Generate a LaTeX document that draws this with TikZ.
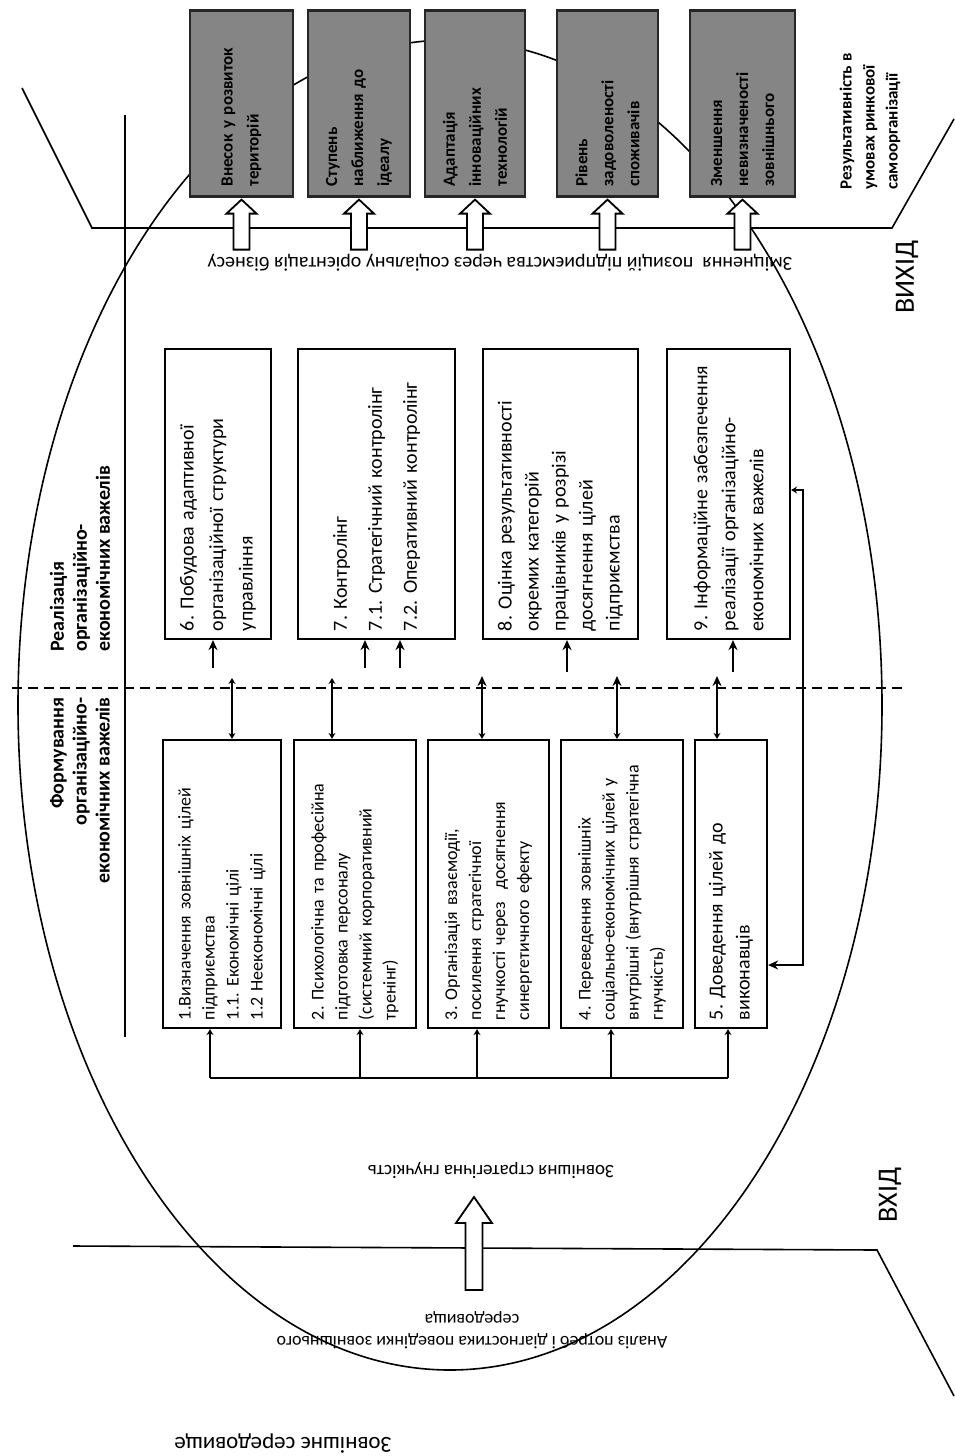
\documentclass[tikz,border=0pt]{standalone}
\usepackage{fontspec}
\setmainfont{Carlito}
\usetikzlibrary{arrows.meta,calc}
\frenchspacing

\begin{document}
\begin{tikzpicture}[x=0.5pt,y=-0.5pt,>={Stealth[length=5pt,width=4.5pt]},
    frame/.style={line width=0.8pt},
    link/.style={line width=1.1pt},
    tinytip/.style={-{Stealth[length=3pt,width=3.5pt]}},
    lever/.style={draw,line width=1.1pt,rotate=90,align=left,inner xsep=4pt,inner ysep=2pt,font=\fontsize{9}{12}\selectfont},
    lever2/.style={lever,font=\fontsize{10}{14}\selectfont},
    outcome/.style={draw=black!85,line width=1.1pt,fill=black!48,rotate=90,align=left,inner xsep=5pt,inner ysep=2pt,text width=83pt,font=\bfseries\fontsize{8.5}{13}\selectfont},
    colhead/.style={rotate=90,inner sep=0pt,font=\bfseries\fontsize{10}{11.5}\selectfont},
    upside/.style={rotate=180,inner sep=0pt,font=\fontsize{9.5}{12}\selectfont},
    hollow/.style={draw,line width=0.9pt,fill=white}]
    \useasboundingbox (0,0) rectangle (954,1456);

    \draw[frame] (450,705) ellipse [x radius=216pt,y radius=332.5pt];
    \draw[frame] (22,88)--(92,228)--(892,228)--(954,119);
    \draw[frame] (73,1246)--(877,1250)--(954,1396);
    \draw[frame] (125,115)--(125,1037);
    \draw[line width=0.9pt,dash pattern=on 5pt off 3pt] (12,688)--(905,688);

    \node[outcome,minimum height=51.5pt] (oA) at (241.5,103.5) {Внесок у розвиток\\територій};
    \node[outcome,minimum height=51pt] (oB) at (359,103.5) {Ступень\\наближення\ до\\ідеалу};
    \node[outcome,minimum height=50pt] (oC) at (475,103.5) {Адаптація\\інноваційних\\технологій};
    \node[outcome,minimum height=50.5pt] (oD) at (607.5,103.5) {Рівень\\задоволеності\\споживачів};
    \node[outcome,minimum height=52.5pt] (oE) at (742.5,103.5) {Зменшення\\невизначеності\\зовнішнього};
    \foreach \r in {oA,oB,oC,oD,oE}
        \draw[hollow] ($(\r.west)+(0,2)$)--+(15,14)--+(8,14)--+(8,50)--+(-8,50)--+(-8,14)--+(-15,14)--cycle;

    \node[lever2,text width=137pt,minimum height=53pt,font=\fontsize{10}{14.75}\selectfont] (b6) at (218,494) {6. Побудова адаптивної\\організаційної структури\\управління};
    \node[lever2,text width=137pt,minimum height=78.5pt,font=\fontsize{10}{17.5}\selectfont] (b7) at (376.5,494) {7. Контролінг\\7.1. Стратегічний контролінг\\7.2. Оперативний контролінг};
    \node[lever2,text width=137pt,minimum height=77.5pt,font=\fontsize{10}{13.5}\selectfont] (b8) at (560.5,494) {8. Оцінка результативності\\окремих категорій\\працівників у розрізі\\досягнення цілей\\підприємства};
    \node[lever2,text width=137pt,minimum height=61.5pt] (b9) at (728.5,494) {9. Інформаційне забезпечення\\реалізації організаційно-\\економічних важелів};

    \node[lever,text width=136pt,minimum height=59pt] (b1) at (222,884) {1.Визначення зовнішніх цілей\\підприємства\\1.1. Економічні цілі\\1.2 Неекономічні цілі};
    \node[lever,text width=136pt,minimum height=61pt] (b2) at (355,884) {2. Психологічна та професійна\\підготовка персоналу\\(системний корпоративний\\тренінг)};
    \node[lever,text width=136pt,minimum height=60.5pt] (b3) at (488.5,884) {3. Організація взаємодії,\\посилення стратегічної\\гнучкості через\ \ досягнення\\синергетичного ефекту};
    \node[lever,text width=136pt,minimum height=61pt] (b4) at (622,884) {4. Переведення зовнішніх\\соціально-економічних цілей у\\внутрішні (внутрішня стратегічна\\гнучкість)};
    \node[lever2,text width=136pt,minimum height=36pt,font=\fontsize{10}{13.5}\selectfont] (b5) at (731,884) {5. Доведення цілей до\\виконавців};

    \coordinate (bus1) at (210,1078);
    \coordinate (bus2) at (360,1078);
    \coordinate (bus3) at (477,1078);
    \coordinate (bus4) at (611,1078);
    \coordinate (bus5) at (728,1078);
    \draw[link] (bus1)--(bus5);
    \foreach \i in {1,...,5}
        \draw[link,tinytip] (bus\i)--(bus\i |- b\i.west);

    \coordinate (up1) at (232,678);
    \coordinate (up2) at (332,678);
    \coordinate (up3) at (482,676);
    \coordinate (up4) at (617,676);
    \coordinate (up5) at (717,676);
    \foreach \i in {1,2}
        \draw[link,{Stealth[length=3pt,width=3.5pt]}-{Stealth[length=3pt,width=3.5pt]}] (up\i |- b\i.east)--(up\i);
    \foreach \i in {3,4,5}
        \draw[link,{Stealth[length=3pt,width=3.5pt]}->] (up\i |- b\i.east)--(up\i);

    \coordinate (in6) at (213,668);
    \coordinate (in7a) at (365,668);
    \coordinate (in7b) at (400,668);
    \coordinate (in8) at (567,672);
    \coordinate (in9) at (733,672);
    \draw[link,->] (in6)--(in6 |- b6.west);
    \draw[link,->] (in7a)--(in7a |- b7.west);
    \draw[link,->] (in7b)--(in7b |- b7.west);
    \draw[link,->] (in8)--(in8 |- b8.west);
    \draw[link,->] (in9)--(in9 |- b9.west);

    \coordinate (fbtop) at (803,490);
    \coordinate (fbbot) at (803,965);
    \draw[link,{Stealth[length=3pt,width=3.5pt]}->] (fbtop -| b9.south)--(fbtop)--(fbbot)--(fbbot -| b5.south);

    \node[colhead,anchor=east,align=right] (form) at (80,697) {Формування\\організаційно-\\економічних важелів};
    \node[colhead,anchor=west,align=left] (real) at (80,652) {Реалізація\\організаційно-\\економічних важелів};

    \node[upside,font=\fontsize{10}{12}\selectfont] (pos) at (500,263) {Зміцнення\ \ позицій підприємства через соціальну орієнтація бізнесу};
    \node[upside] (flex) at (491,1170) {Зовнішня стратегічна гнучкість};
    \node[upside,align=center,font=\fontsize{9}{11}\selectfont] (env) at (472,1330) {Аналіз потреб і діагностика поведінки зовнішнього\\середовища};
    \draw[hollow] (474,1197)--+(18,26)--+(8.5,26)--+(8.5,93)--+(-8.5,93)--+(-8.5,26)--+(-18,26)--cycle;
    \node[upside,font=\fontsize{11.5}{13}\selectfont] (ext) at (283,1444) {Зовнішнє середовище};

    \node[rotate=90,inner sep=0pt,font=\fontsize{14}{16}\selectfont] (vyh) at (907,277) {ВИХІД};
    \node[rotate=90,inner sep=0pt,font=\fontsize{14}{16}\selectfont] (vh) at (890,1195) {ВХІД};
    \node[colhead,anchor=west,align=left,font=\bfseries\fontsize{8.5}{11.5}\selectfont] (res) at (870,190) {Результативність в\\умовах ринкової\\самоорганізації};
\end{tikzpicture}
\end{document}
